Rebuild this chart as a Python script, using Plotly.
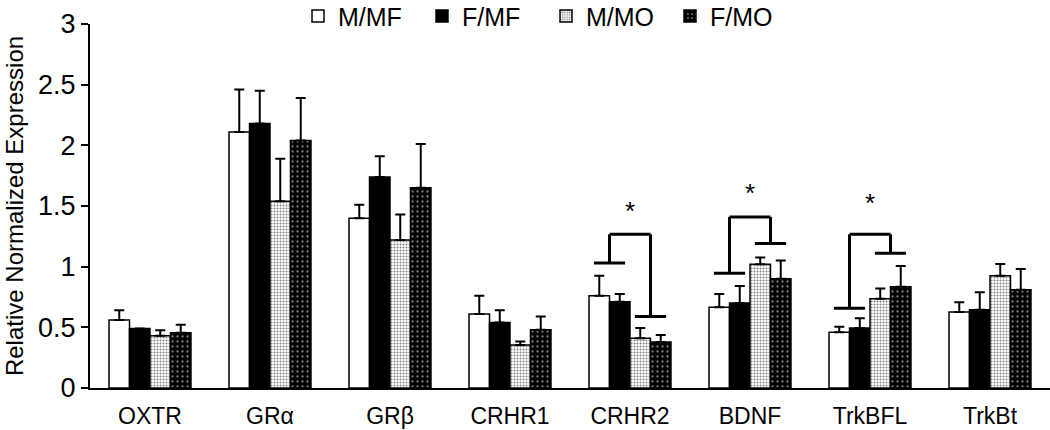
import plotly.graph_objects as go

categories = ["OXTR", "GRα", "GRβ", "CRHR1", "CRHR2", "BDNF", "TrkBFL", "TrkBt"]
series_names = ["M/MF", "F/MF", "M/MO", "F/MO"]

m_mf = [0.56, 2.11, 1.40, 0.61, 0.76, 0.665, 0.46, 0.627]
f_mf = [0.49, 2.18, 1.74, 0.54, 0.71, 0.70, 0.495, 0.645]
m_mo = [0.43, 1.54, 1.22, 0.354, 0.41, 1.02, 0.736, 0.926]
f_mo = [0.456, 2.04, 1.65, 0.48, 0.38, 0.90, 0.835, 0.81]

m_mf_err = [0.08, 0.35, 0.11, 0.15, 0.165, 0.11, 0.045, 0.08]
f_mf_err = [0.0, 0.27, 0.17, 0.10, 0.065, 0.14, 0.08, 0.145]
m_mo_err = [0.045, 0.35, 0.21, 0.03, 0.085, 0.055, 0.085, 0.095]
f_mo_err = [0.065, 0.35, 0.36, 0.11, 0.057, 0.15, 0.17, 0.17]

# significance brackets: category, left-pair level, top level, right-pair level, star level
sig_cats = ["CRHR2", "BDNF", "TrkBFL"]
sig_left = [1.03, 0.945, 0.657]
sig_top = [1.267, 1.41, 1.267]
sig_right = [0.59, 1.19, 1.11]
sig_star = [1.49, 1.64, 1.56]

y_ticks = [0, 0.5, 1, 1.5, 2, 2.5, 3]

FONT = "Liberation Sans, Arial, sans-serif"

values = [m_mf, f_mf, m_mo, f_mo]
errors = [m_mf_err, f_mf_err, m_mo_err, f_mo_err]
styles = [
    dict(color="white", pattern=None),
    dict(color="black", pattern=None),
    dict(color="white", pattern=dict(shape=".", bgcolor="white", fgcolor="black", size=3, solidity=0.35)),
    dict(color="black", pattern=dict(shape=".", bgcolor="black", fgcolor="white", size=5, solidity=0.16)),
]

fig = go.Figure()
for name, vals, errs, st in zip(series_names, values, errors, styles):
    marker = dict(color=st["color"], line=dict(color="black", width=1.5))
    if st["pattern"] is not None:
        marker["pattern"] = st["pattern"]
    fig.add_trace(go.Bar(
        name=name, x=categories, y=vals, marker=marker,
        error_y=dict(type="data", array=errs, arrayminus=[0] * len(errs), symmetric=False,
                     color="black", thickness=2, width=5),
    ))

bargap = 0.317
bar_w = (1 - bargap) / 4
pair_off = bar_w
half = 0.13
shapes = []
annotations = []
line = dict(color="black", width=3)
for c, lv, tv, rv, sv in zip(sig_cats, sig_left, sig_top, sig_right, sig_star):
    cx = categories.index(c)
    xl = cx - pair_off
    xr = cx + pair_off
    shapes += [
        dict(type="line", xref="x", yref="y", x0=xl - half, x1=xl + half, y0=lv, y1=lv, line=line),
        dict(type="line", xref="x", yref="y", x0=xl, x1=xl, y0=lv, y1=tv, line=line),
        dict(type="line", xref="x", yref="y", x0=xl, x1=xr, y0=tv, y1=tv, line=line),
        dict(type="line", xref="x", yref="y", x0=xr, x1=xr, y0=tv, y1=rv, line=line),
        dict(type="line", xref="x", yref="y", x0=xr - half, x1=xr + half, y0=rv, y1=rv, line=line),
    ]
    annotations.append(dict(x=cx, y=sv, xref="x", yref="y", text="*", showarrow=False,
                            yanchor="middle", yshift=-4, font=dict(size=26, color="black", family=FONT)))

fig.update_layout(
    width=1050, height=430,
    margin=dict(l=90, r=0, t=24, b=42, autoexpand=False),
    paper_bgcolor="white", plot_bgcolor="white",
    barmode="group", bargap=bargap, bargroupgap=0,
    font=dict(family=FONT, color="black", size=22),
    showlegend=True,
    legend=dict(orientation="h", x=0.475, xanchor="center", yref="container", y=0.962, yanchor="middle",
                font=dict(size=25, family=FONT, color="black"), bgcolor="rgba(0,0,0,0)",
                itemwidth=30, tracegroupgap=0, entrywidth=79),
    shapes=shapes, annotations=annotations,
)
fig.update_xaxes(showline=True, linecolor="black", linewidth=2, showgrid=False, ticks="",
                 tickfont=dict(size=23, family=FONT, color="black"), ticklabelstandoff=6)
fig.update_yaxes(range=[0, 3], tickvals=y_ticks, ticktext=[f"{t:g}" for t in y_ticks],
                 showline=True, linecolor="black", linewidth=2, showgrid=False, zeroline=False,
                 ticks="outside", ticklen=7, tickwidth=1.5, tickcolor="black",
                 tickfont=dict(size=27, family=FONT, color="black"),
                 title=dict(text="Relative Normalized Expression", font=dict(size=24, family=FONT, color="black"),
                            standoff=8))

fig.write_html("out.html", config={"displayModeBar": False},
               post_script="document.body.style.margin='0';document.body.style.padding='0';")
